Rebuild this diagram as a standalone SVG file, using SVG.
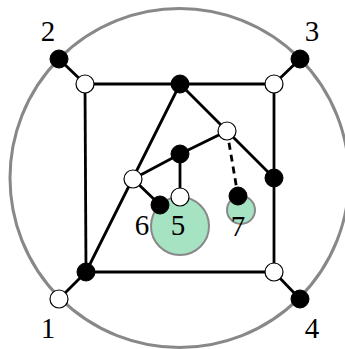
<svg xmlns="http://www.w3.org/2000/svg" width="345" height="349" viewBox="0 0 345 349">
<style>
.e{stroke:#000;stroke-width:2.8;fill:none}
.d{stroke:#000;stroke-width:2.8;fill:none;stroke-dasharray:7,5}
.b{fill:#000;stroke:#000;stroke-width:1}
.w{fill:#fff;stroke:#000;stroke-width:1.2}
.g{fill:#a6e3c3;stroke:#888;stroke-width:2}
.t{font-family:"Liberation Serif","Times New Roman",serif;font-size:29px;fill:#000;text-anchor:middle}
</style>
<rect width="345" height="349" fill="#fff"/>
<circle cx="179.5" cy="178" r="169.5" fill="none" stroke="#888" stroke-width="3"/>
<g id="regions">
<circle id="r5" class="g" cx="180" cy="226" r="29"/>
<circle id="r7" class="g" cx="241" cy="210" r="14"/>
</g>
<g id="connectors">
<line class="e" x1="59" y1="59" x2="85" y2="84"/>
<line class="e" x1="85" y1="84" x2="274" y2="84"/>
<line class="e" x1="274" y1="84" x2="300" y2="59"/>
<line class="e" x1="85" y1="84" x2="86" y2="272"/>
<line class="e" x1="274" y1="84" x2="274" y2="272"/>
<line class="e" x1="86" y1="272" x2="274" y2="272"/>
<line class="e" x1="86" y1="272" x2="59" y2="299"/>
<line class="e" x1="274" y1="272" x2="300" y2="299"/>
<line class="e" x1="86" y1="272" x2="180" y2="84"/>
<line class="e" x1="180" y1="84" x2="274" y2="178"/>
<polyline class="e" points="227,131 180,154 133,179"/>
<line class="e" x1="180" y1="154" x2="180" y2="197"/>
<line class="e" x1="133" y1="179" x2="160" y2="205"/>
<line class="d" x1="227" y1="131" x2="238" y2="196"/>
</g>
<g id="n2"><circle class="b" cx="59" cy="59" r="9"/></g>
<g id="n3"><circle class="b" cx="300" cy="59" r="9"/></g>
<g id="n1"><circle class="w" cx="59" cy="299" r="9"/></g>
<g id="n4"><circle class="b" cx="300" cy="299" r="9"/></g>
<g id="ntl"><circle class="w" cx="85" cy="84" r="9"/></g>
<g id="ntm"><circle class="b" cx="180" cy="84" r="9"/></g>
<g id="ntr"><circle class="w" cx="274" cy="84" r="9"/></g>
<g id="nbl"><circle class="b" cx="86" cy="272" r="9"/></g>
<g id="nbr"><circle class="w" cx="274" cy="272" r="9"/></g>
<g id="nr"><circle class="b" cx="274" cy="178" r="9"/></g>
<g id="nc1"><circle class="w" cx="227" cy="131" r="9"/></g>
<g id="nc2"><circle class="b" cx="180" cy="154" r="9"/></g>
<g id="nl"><circle class="w" cx="133" cy="179" r="9"/></g>
<g id="n6"><circle class="b" cx="160" cy="205" r="9"/></g>
<g id="n5"><circle class="w" cx="180" cy="197" r="9"/></g>
<g id="n7"><circle class="b" cx="238" cy="196" r="9"/></g>
<g id="labels">
<text class="t" x="48" y="41">2</text>
<text class="t" x="312" y="41">3</text>
<text class="t" x="48" y="338">1</text>
<text class="t" x="312" y="338">4</text>
<text class="t" x="142" y="235">6</text>
<text class="t" x="178" y="235">5</text>
<text class="t" x="238" y="236">7</text>
</g>
</svg>
